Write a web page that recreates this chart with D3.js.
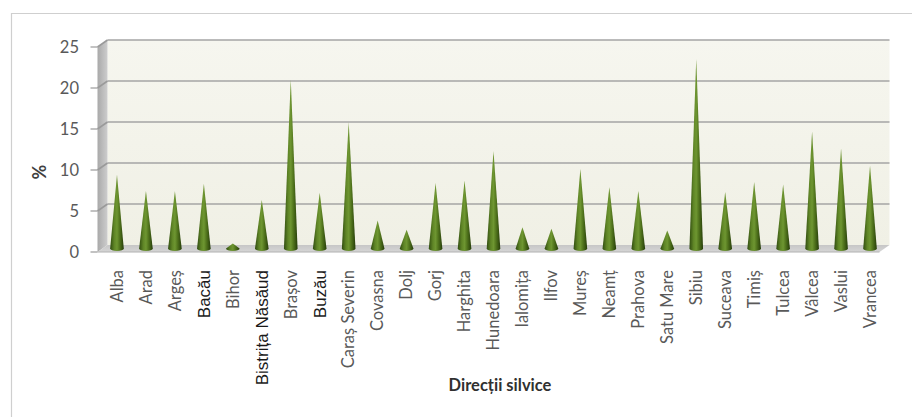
<!DOCTYPE html>
<html>
<head>
<meta charset="utf-8">
<script src="https://cdn.jsdelivr.net/npm/d3@7"></script>
<style>
  html, body { margin: 0; padding: 0; background: #fff; }
  svg { display: block; }
</style>
</head>
<body>
<svg id="chart" width="912" height="417"></svg>
<script>
// Forest directorates and their share (%)
const categories = ["Alba","Arad","Argeș","Bacău","Bihor","Bistrița Năsăud","Brașov","Buzău",
  "Caraș Severin","Covasna","Dolj","Gorj","Harghita","Hunedoara","Ialomița","Ilfov","Mureș",
  "Neamț","Prahova","Satu Mare","Sibiu","Suceava","Timiș","Tulcea","Vâlcea","Vaslui","Vrancea"];
const values = [9.0, 7.0, 7.0, 7.9, 0.6, 5.9, 20.6, 6.8, 15.4, 3.4, 2.3, 8.0, 8.3, 11.9, 2.6,
  2.4, 9.7, 7.5, 7.0, 2.2, 23.1, 6.9, 8.1, 7.8, 14.3, 12.2, 10.1];
const yTicks = [0, 5, 10, 15, 20, 25];
const darkLabels = ["Bacău", "Bistrița Năsăud", "Buzău"];
const yTitle = "%";
const xTitle = "Direcții silvice";

const svg = d3.select("#chart");
const font = "Lato, 'Open Sans', sans-serif";

// 3D frame: front plane plus a depth offset for the back wall
const front = { left: 97.5, right: 879.5 };
const depth = { dx: 10, dy: -7 };

const y = d3.scaleLinear().domain([0, 25]).range([252, 47]);
const x = d3.scaleBand().domain(categories)
  .range([front.left + depth.dx / 2, front.right + depth.dx / 2]);

const defs = svg.append("defs");

// chart area border (top and left edges)
svg.append("path").attr("d", "M11.5,417 L11.5,13.5 L912,13.5")
  .attr("fill", "none").attr("stroke", "#cfcfcf").attr("stroke-width", 1.2);

// back wall
const wallGrad = defs.append("linearGradient").attr("id", "wall").attr("x1", 0).attr("y1", 0).attr("x2", 0).attr("y2", 1);
wallGrad.append("stop").attr("offset", 0).attr("stop-color", "#f6f6ef");
wallGrad.append("stop").attr("offset", 1).attr("stop-color", "#f0f0e5");
const bx0 = front.left + depth.dx, bx1 = front.right + depth.dx;
svg.append("rect").attr("x", bx0).attr("y", y(25) + depth.dy)
  .attr("width", bx1 - bx0).attr("height", y(0) - y(25))
  .attr("fill", "url(#wall)");

// side wall
const sideGrad = defs.append("linearGradient").attr("id", "side").attr("x1", 0).attr("y1", 0).attr("x2", 1).attr("y2", 0);
sideGrad.append("stop").attr("offset", 0).attr("stop-color", "#a9a9a9");
sideGrad.append("stop").attr("offset", 1).attr("stop-color", "#cdcdcd");
svg.append("path")
  .attr("d", d3.line()([[front.left, y(25)], [bx0, y(25) + depth.dy], [bx0, y(0) + depth.dy], [front.left, y(0)]]) + "Z")
  .attr("fill", "url(#side)");

// gridlines on back wall and side wall
const grid = svg.append("g").attr("stroke", "#a4a4a4").attr("stroke-width", 1.6).attr("fill", "none");
yTicks.filter(t => t > 0).forEach(t => {
  grid.append("line").attr("x1", bx0).attr("x2", bx1)
    .attr("y1", y(t) + depth.dy).attr("y2", y(t) + depth.dy);
  grid.append("line").attr("x1", front.left).attr("x2", bx0)
    .attr("y1", y(t)).attr("y2", y(t) + depth.dy).attr("stroke", "#9a9a9a");
});

// floor
const floorGrad = defs.append("linearGradient").attr("id", "floor").attr("x1", 0).attr("y1", 0).attr("x2", 0).attr("y2", 1);
floorGrad.append("stop").attr("offset", 0).attr("stop-color", "#c6c6c6");
floorGrad.append("stop").attr("offset", 1).attr("stop-color", "#d6d6d6");
svg.append("path")
  .attr("d", d3.line()([[front.left, y(0)], [bx0, y(0) + depth.dy], [bx1, y(0) + depth.dy], [front.right, y(0)]]) + "Z")
  .attr("fill", "url(#floor)");
svg.append("line").attr("x1", front.left).attr("x2", front.right).attr("y1", y(0)).attr("y2", y(0))
  .attr("stroke", "#b0b0b0").attr("stroke-width", 1);

// value axis: ticks and labels on the front plane
const axisG = svg.append("g");
yTicks.forEach(t => {
  axisG.append("line").attr("x1", front.left - 7).attr("x2", front.left)
    .attr("y1", y(t)).attr("y2", y(t)).attr("stroke", "#9a9a9a").attr("stroke-width", 1.2);
  axisG.append("text").attr("x", 79).attr("y", y(t)).attr("dy", "0.35em")
    .attr("text-anchor", "end").attr("font-family", font).attr("font-size", 16.5)
    .attr("fill", "#595959").text(t);
});

// cones
const coneGrad = defs.append("linearGradient").attr("id", "cone").attr("x1", 0).attr("y1", 0).attr("x2", 1).attr("y2", 0);
[[0, "#304c10"], [0.3, "#5f8526"], [0.5, "#6e9631"], [0.7, "#50731c"], [1, "#263d0a"]]
  .forEach(([o, c]) => coneGrad.append("stop").attr("offset", o).attr("stop-color", c));

const baseY = y(0) + depth.dy / 2;
const coneW = x.bandwidth() * 0.47;
const coneRy = 2.6;
svg.append("g").selectAll("path").data(categories).join("path")
  .attr("d", (d, i) => {
    const cx = x(d) + x.bandwidth() / 2;
    const tip = y(values[i]) + depth.dy / 2;
    const hw = coneW / 2;
    return `M${cx - hw},${baseY} L${cx},${tip} L${cx + hw},${baseY} A${hw},${coneRy} 0 0 1 ${cx - hw},${baseY} Z`;
  })
  .attr("fill", "url(#cone)");

// category labels, rotated
svg.append("g").selectAll("text").data(categories).join("text")
  .attr("transform", d => `translate(${x(d) + x.bandwidth() / 2},270) rotate(-90)`)
  .attr("dy", "0.35em")
  .attr("text-anchor", "end")
  .attr("font-family", d => darkLabels.includes(d) ? "'Liberation Sans', Arial, sans-serif" : font)
  .attr("font-size", d => darkLabels.includes(d) ? 17 : 16.5)
  .attr("fill", d => darkLabels.includes(d) ? "#1a1a1a" : "#595959")
  .text(d => d);

// axis titles
svg.append("text").attr("transform", "translate(40,172) rotate(-90)")
  .attr("dy", "0.35em").attr("text-anchor", "middle")
  .attr("font-family", font).attr("font-weight", "bold").attr("font-size", 18)
  .attr("fill", "#404040").text(yTitle);
svg.append("text").attr("x", 500).attr("y", 385).attr("dy", "0.35em")
  .attr("text-anchor", "middle").attr("font-family", font).attr("font-weight", "bold")
  .attr("font-size", 16.5).attr("fill", "#303030").text(xTitle);
</script>
</body>
</html>
